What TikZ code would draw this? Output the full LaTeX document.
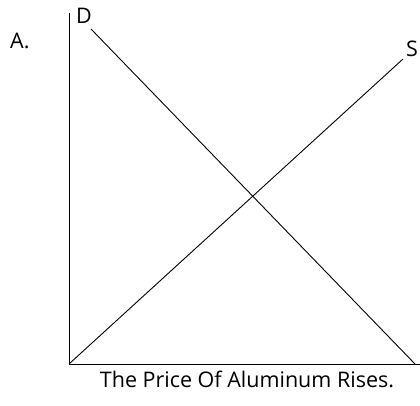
\documentclass[tikz,border=0pt]{standalone}
\usepackage{fontspec}
\setmainfont{Open Sans}
\begin{document}
\begin{tikzpicture}[x=1pt,y=1pt,
  curve/.style={line width=0.9pt,black},
  lbl/.style={font=\fontsize{21.5}{26}\selectfont,inner sep=0pt,text=black}]
\useasboundingbox (0,0) rectangle (420,406);
\coordinate (top) at (69,393);
\coordinate (o) at (69,42);
\coordinate (right) at (420,42);
\coordinate (d1) at (91,377);
\coordinate (d2) at (415,42);
\coordinate (s2) at (403,347);
\draw[curve] (top) -- (o) -- (right);
\draw[curve] (d1) -- (d2);
\draw[curve] (o) -- (s2);
\node[lbl,anchor=base west] (a) at (10,357) {A.};
\node[lbl,anchor=base west] (dl) at (76,382) {D};
\node[lbl,anchor=base west] (sl) at (406,349) {S};
\node[lbl,anchor=base] (cap) at (247,18) {The Price Of Aluminum Rises.};
\end{tikzpicture}
\end{document}
